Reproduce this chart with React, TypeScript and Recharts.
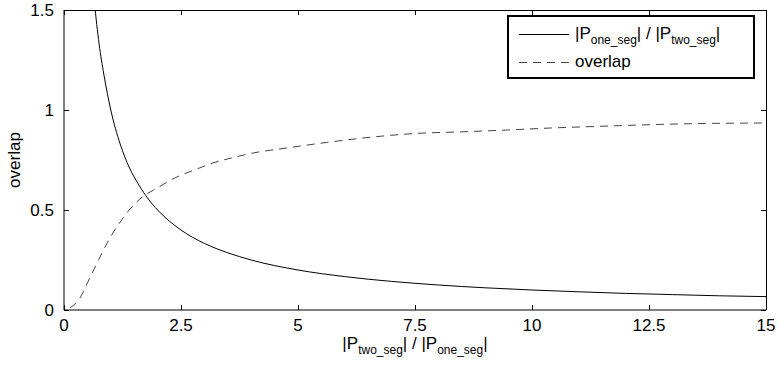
import React from "react";
import { LineChart, Line, XAxis, YAxis, Legend, Label } from "recharts";

// axis ticks
const xTicks = [0, 2.5, 5, 7.5, 10, 12.5, 15];
const yTicks = [0, 0.5, 1, 1.5];

// |P_one_seg| / |P_two_seg| (solid)
const ratioX = [0.6, 0.65, 0.75, 0.85, 1, 1.2, 1.4, 1.6, 1.8, 2, 2.5, 3, 3.5, 4, 5, 6, 7, 8, 9, 10, 11, 12, 13, 14, 15];
const ratioY = [1.67, 1.54, 1.33, 1.18, 1.0, 0.83, 0.71, 0.625, 0.555, 0.5, 0.4, 0.333, 0.286, 0.25, 0.2, 0.167, 0.143, 0.125, 0.111, 0.1, 0.091, 0.083, 0.077, 0.071, 0.067];

// overlap (dashed)
const overlapX = [0.13, 0.34, 0.56, 0.77, 0.98, 1.2, 1.41, 1.62, 1.99, 2.41, 2.84, 3.18, 3.61, 4.04, 4.76, 5.68, 6.6, 7.54, 8.4, 9.47, 10.4, 11.4, 12.3, 13.5, 15];
const overlapY = [0.01, 0.06, 0.165, 0.265, 0.36, 0.44, 0.505, 0.555, 0.61, 0.665, 0.705, 0.735, 0.762, 0.785, 0.81, 0.84, 0.865, 0.883, 0.89, 0.9, 0.91, 0.918, 0.925, 0.932, 0.935];

const ratioData = ratioX.map((x, i) => ({ x, y: ratioY[i] }));
const overlapData = overlapX.map((x, i) => ({ x, y: overlapY[i] }));

const FONT = "'Liberation Sans', Arial, Helvetica, sans-serif";
const FS = 17;
const SUB = 12;
const TL = 5;
const X_MAX = 15;
const Y_MAX = 1.5;

// chart layout
const W = 780;
const H = 370;
const M = { top: 10, right: 14, bottom: 15, left: 24 };
const YW = 40;
const XH = 45;
const PLOT_L = M.left + YW;
const PLOT_T = M.top;
const PLOT_W = W - M.left - M.right - YW;
const PLOT_H = H - M.top - M.bottom - XH;

const BottomTick = (props: any) => {
  const { x, y, payload } = props;
  return (
    <text x={x} y={y + 21} textAnchor="middle" fontFamily={FONT} fontSize={FS} fill="#000">
      {payload.value}
    </text>
  );
};

const LeftTick = (props: any) => {
  const { x, y, payload } = props;
  return (
    <text x={x - 10} y={y} dy="0.35em" textAnchor="end" fontFamily={FONT} fontSize={FS} fill="#000">
      {payload.value}
    </text>
  );
};

const XTitle = (props: any) => {
  const vb = props.viewBox;
  return (
    <text x={vb.x + vb.width / 2} y={vb.y + 39} textAnchor="middle" fontFamily={FONT} fontSize={FS} fill="#000">
      |P
      <tspan fontSize={SUB} dy={5}>two_seg</tspan>
      <tspan dy={-5}>| / |P</tspan>
      <tspan fontSize={SUB} dy={5}>one_seg</tspan>
      <tspan dy={-5}>|</tspan>
    </text>
  );
};

const YTitle = (props: any) => {
  const vb = props.viewBox;
  const cx = vb.x - 4;
  const cy = vb.y + vb.height / 2;
  return (
    <text x={cx} y={cy} transform={`rotate(-90 ${cx} ${cy})`} textAnchor="middle" fontFamily={FONT} fontSize={FS} fill="#000">
      overlap
    </text>
  );
};

const bar = (left: number, top: number, width: number, height: number, key: string) => (
  <div key={key} style={{ position: "absolute", left, top, width, height, background: "#000" }} />
);

// top/right edges of the box and inward ticks on all sides
const BoxMarks = () => {
  const px = (v: number) => Math.round(PLOT_L + (v / X_MAX) * PLOT_W);
  const py = (v: number) => Math.round(PLOT_T + PLOT_H - (v / Y_MAX) * PLOT_H);
  const right = PLOT_L + PLOT_W;
  const bottom = PLOT_T + PLOT_H;
  return (
    <>
      {bar(PLOT_L, PLOT_T, PLOT_W + 1, 1, "top")}
      {bar(right, PLOT_T, 1, PLOT_H, "right")}
      {xTicks.map((v) => bar(px(v), bottom - TL, 1, TL, `b${v}`))}
      {xTicks.map((v) => bar(px(v), PLOT_T, 1, TL, `t${v}`))}
      {yTicks.map((v) => bar(PLOT_L, py(v), TL, 1, `l${v}`))}
      {yTicks.map((v) => bar(right - TL, py(v), TL, 1, `r${v}`))}
    </>
  );
};

const Sub = ({ children }: { children: React.ReactNode }) => (
  <span style={{ fontSize: SUB, position: "relative", top: 5 }}>{children}</span>
);

const LegendBox = () => (
  <div style={{ position: "relative", width: W, height: H, pointerEvents: "none" }}>
    <BoxMarks />
    <div
      style={{
        position: "absolute",
        left: 507,
        top: 15,
        width: 244,
        height: 60,
        border: "2px solid #000",
        background: "#fff",
        fontFamily: FONT,
        fontSize: FS,
        color: "#000",
        boxSizing: "content-box",
      }}
    >
      <div style={{ display: "flex", alignItems: "center", height: 30, marginTop: 2 }}>
        <svg width={56} height={10} style={{ marginLeft: 10 }}>
          <line x1={0} y1={5.5} x2={50} y2={5.5} stroke="#000" />
        </svg>
        <span>
          |P<Sub>one_seg</Sub>| / |P<Sub>two_seg</Sub>|
        </span>
      </div>
      <div style={{ display: "flex", alignItems: "center", height: 26 }}>
        <svg width={56} height={10} style={{ marginLeft: 10 }}>
          <line x1={0} y1={5.5} x2={50} y2={5.5} stroke="#444" strokeDasharray="8 6" />
        </svg>
        <span>overlap</span>
      </div>
    </div>
  </div>
);

export default function App() {
  return (
    <div style={{ position: "absolute", left: 0, top: 0, width: W, height: H, background: "#fff" }}>
      <LineChart width={W} height={H} margin={M}>
        <XAxis
          dataKey="x"
          type="number"
          domain={[0, X_MAX]}
          ticks={xTicks}
          allowDataOverflow
          height={XH}
          tickSize={0}
          tickMargin={0}
          tick={<BottomTick />}
          stroke="#000"
        >
          <Label content={<XTitle />} />
        </XAxis>
        <YAxis
          type="number"
          domain={[0, Y_MAX]}
          ticks={yTicks}
          allowDataOverflow
          width={YW}
          tickSize={0}
          tickMargin={0}
          tick={<LeftTick />}
          stroke="#000"
        >
          <Label content={<YTitle />} />
        </YAxis>
        <Legend
          layout="vertical"
          align="center"
          verticalAlign="middle"
          content={<LegendBox />}
          wrapperStyle={{ position: "absolute", left: 0, top: 0, width: W, height: H, pointerEvents: "none" }}
        />
        <Line
          data={ratioData}
          dataKey="y"
          type="monotone"
          stroke="#000"
          strokeWidth={1}
          dot={false}
          isAnimationActive={false}
          name="ratio"
        />
        <Line
          data={overlapData}
          dataKey="y"
          type="monotone"
          stroke="#444"
          strokeWidth={1}
          strokeDasharray="8 6"
          dot={false}
          isAnimationActive={false}
          name="overlap"
        />
      </LineChart>
    </div>
  );
}
